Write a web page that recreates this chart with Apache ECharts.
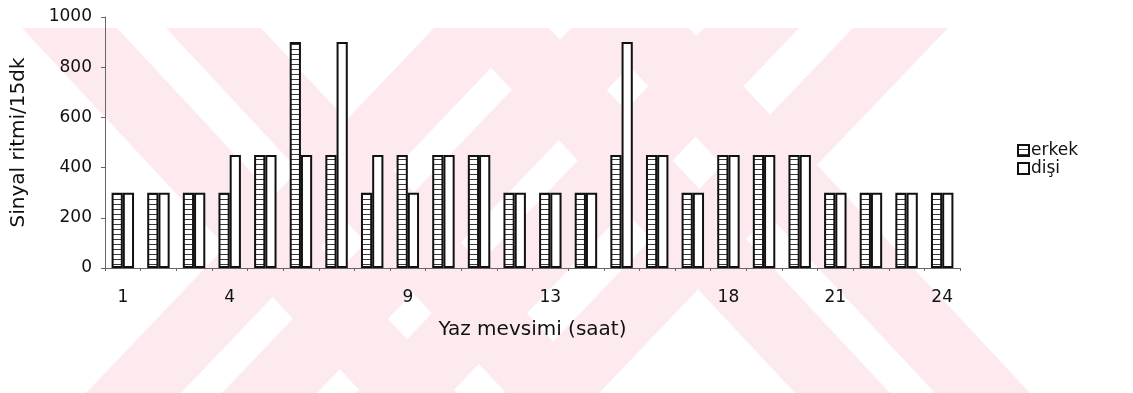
<!DOCTYPE html>
<html>
<head>
<meta charset="utf-8">
<script src="https://cdn.jsdelivr.net/npm/echarts@6/dist/echarts.min.js"></script>
<style>
  html, body { margin: 0; padding: 0; background: #ffffff; }
  #chart { width: 1133px; height: 393px; }
</style>
</head>
<body>
<div id="chart"></div>
<script>
// Hours of the day (summer season)
const hours = ['1','2','3','4','5','6','7','8','9','10','11','12','13','14','15','16','17','18','19','20','21','22','23','24'];
// Hours that carry a printed label on the category axis
const labelledHours = ['1','4','9','13','18','21','24'];
// Signal rate per 15 minutes
const erkek = [300,300,300,300,450,900,450,300,450,450,450,300,300,300,450,450,300,450,450,450,300,300,300,300];
const disi  = [300,300,300,450,450,450,900,450,300,450,450,300,300,300,900,450,300,450,450,450,300,300,300,300];
// Value axis ticks
const yTicks = [0,200,400,600,800,1000];

// Horizontal hatch fill for the "erkek" bars
function hatch() {
  const c = document.createElement('canvas');
  c.width = 4; c.height = 5;
  const g = c.getContext('2d');
  g.fillStyle = '#ffffff';
  g.fillRect(0, 0, 4, 5);
  g.fillStyle = '#3a3a3a';
  g.fillRect(0, 4, 4, 1);
  return c;
}

// Pale diagonal band pattern behind the plot
const bandColor = '#fdeaee';
const bandTop = 28, bandBottom = 393, bandW = 95;
const bandStarts = [
  { top: 22,  bottom: 362 }, { top: 166, bottom: 506 },
  { top: 454, bottom: 795 }, { top: 594, bottom: 935 },
  { top: 434, bottom: 86 },  { top: 571, bottom: 222 },
  { top: 704, bottom: 356 }, { top: 853, bottom: 504 }
];
const bands = bandStarts.map(b => ({
  type: 'polygon',
  z: -10,
  silent: true,
  shape: { points: [[b.top, bandTop], [b.top + bandW, bandTop], [b.bottom + bandW, bandBottom], [b.bottom, bandBottom]] },
  style: { fill: bandColor }
}));

const chart = echarts.init(document.getElementById('chart'), null, { renderer: 'canvas' });
const font = 'DejaVu Sans, Verdana, sans-serif';

chart.setOption({
  animation: false,
  backgroundColor: '#ffffff',
  graphic: bands,
  grid: { left: 105, right: 173, top: 17, bottom: 125, containLabel: false },
  legend: {
    orient: 'vertical',
    left: 1012,
    top: 137,
    itemWidth: 11,
    itemHeight: 11,
    itemGap: 1,
    icon: 'rect',
    textStyle: { fontFamily: font, fontSize: 17, color: '#111', padding: [0, 0, 0, -3] },
    data: ['erkek', 'dişi']
  },
  xAxis: {
    type: 'category',
    data: hours,
    name: 'Yaz mevsimi (saat)',
    nameLocation: 'middle',
    nameGap: 52,
    nameTextStyle: { fontFamily: font, fontSize: 20, color: '#111' },
    axisLine: { lineStyle: { color: '#666', width: 1 } },
    axisTick: { show: true, interval: 0, length: 3, lineStyle: { color: '#666' } },
    axisLabel: {
      interval: 0,
      margin: 21,
      fontFamily: font,
      fontSize: 17,
      color: '#111',
      formatter: v => labelledHours.includes(v) ? v : ''
    },
    splitLine: { show: false }
  },
  yAxis: {
    type: 'value',
    min: yTicks[0],
    max: yTicks[yTicks.length - 1],
    interval: yTicks[1] - yTicks[0],
    name: 'Sinyal ritmi/15dk',
    nameLocation: 'middle',
    nameGap: 76,
    nameTextStyle: { fontFamily: font, fontSize: 20, color: '#111' },
    axisLine: { show: true, lineStyle: { color: '#666', width: 1 } },
    axisTick: { show: true, length: 4, lineStyle: { color: '#666' } },
    axisLabel: { margin: 13, fontFamily: font, fontSize: 17, color: '#111', formatter: v => String(v) },
    splitLine: { show: false }
  },
  series: [
    {
      name: 'erkek',
      type: 'bar',
      data: erkek,
      barGap: '0%',
      barCategoryGap: '37%',
      itemStyle: {
        color: { image: hatch(), repeat: 'repeat' },
        borderColor: '#111',
        borderWidth: 2
      }
    },
    {
      name: 'dişi',
      type: 'bar',
      data: disi,
      barGap: '0%',
      barCategoryGap: '37%',
      itemStyle: {
        color: '#ffffff',
        borderColor: '#111',
        borderWidth: 2
      }
    }
  ]
});
</script>
</body>
</html>
